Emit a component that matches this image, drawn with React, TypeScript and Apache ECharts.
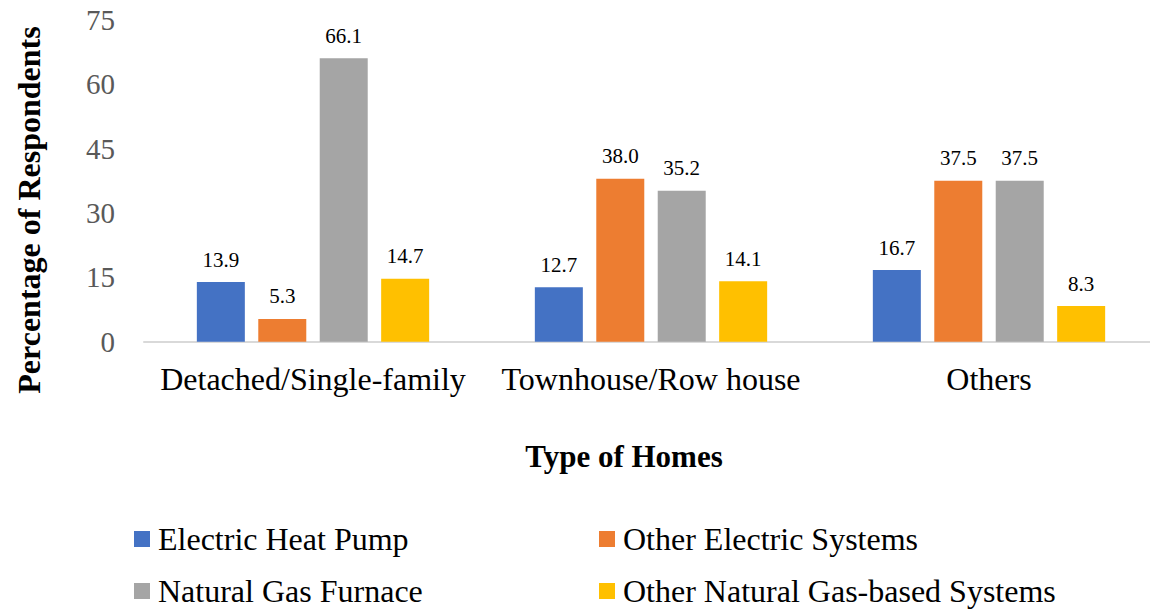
import React, { useEffect, useRef } from "react";
import * as echarts from "echarts";

const categories = ["Detached/Single-family", "Townhouse/Row house", "Others"];
const seriesNames = [
  "Electric Heat Pump",
  "Other Electric Systems",
  "Natural Gas Furnace",
  "Other Natural Gas-based Systems",
];
const electricHeatPump = [13.9, 12.7, 16.7];
const otherElectric = [5.3, 38.0, 37.5];
const naturalGasFurnace = [66.1, 35.2, 37.5];
const otherNaturalGas = [14.7, 14.1, 8.3];
const colors = ["#4472C4", "#ED7D31", "#A5A5A5", "#FFC000"];
const yTicks = { min: 0, max: 75, interval: 15 };

const SERIF = "'Liberation Serif', 'Times New Roman', serif";

export default function App() {
  const ref = useRef<HTMLDivElement>(null);
  useEffect(() => {
    if (!ref.current) return;
    const chart = echarts.init(ref.current, null, { renderer: "svg" });
    const values = [electricHeatPump, otherElectric, naturalGasFurnace, otherNaturalGas];
    const legendText = {
      fontFamily: SERIF,
      fontSize: 32,
      color: "#000",
      padding: [0, 0, 0, 3],
    };
    const legendPos = [
      { left: 134, top: 523 },
      { left: 599, top: 523 },
      { left: 134, top: 575 },
      { left: 599, top: 575 },
    ];
    chart.setOption({
      animation: false,
      textStyle: { fontFamily: SERIF },
      grid: { left: 144, width: 1014, top: 20, height: 321.7, containLabel: false },
      xAxis: {
        type: "category",
        data: categories,
        axisLine: { show: true, lineStyle: { color: "#D9D9D9", width: 2 } },
        axisTick: { show: false },
        axisLabel: { fontFamily: SERIF, fontSize: 32, color: "#000", margin: 21, interval: 0 },
      },
      yAxis: {
        type: "value",
        min: yTicks.min,
        max: yTicks.max,
        interval: yTicks.interval,
        axisLine: { show: false },
        axisTick: { show: false },
        splitLine: { show: false },
        axisLabel: { fontFamily: SERIF, fontSize: 29, color: "#595959", margin: 29 },
      },
      legend: seriesNames.map((name, i) => ({
        orient: "horizontal",
        left: legendPos[i].left,
        top: legendPos[i].top,
        padding: 0,
        itemWidth: 16,
        itemHeight: 16,
        icon: "rect",
        data: [name],
        textStyle: legendText,
      })),
      graphic: [
        {
          type: "text",
          x: 624,
          y: 456,
          style: {
            text: "Type of Homes",
            fontFamily: SERIF,
            fontWeight: "bold",
            fontSize: 31,
            fill: "#000",
            textAlign: "center",
            textVerticalAlign: "middle",
          },
        },
        {
          type: "text",
          x: 29,
          y: 210,
          rotation: Math.PI / 2,
          style: {
            text: "Percentage of Respondents",
            fontFamily: SERIF,
            fontWeight: "bold",
            fontSize: 32,
            fill: "#000",
            textAlign: "center",
            textVerticalAlign: "middle",
          },
        },
      ],
      series: seriesNames.map((name, i) => ({
        name,
        type: "bar",
        data: values[i],
        barWidth: 48,
        barGap: "28%",
        itemStyle: { color: colors[i] },
        label: {
          show: true,
          position: "top",
          distance: 12,
          fontFamily: SERIF,
          fontSize: 21,
          color: "#000",
          formatter: (p: any) => Number(p.value).toFixed(1),
        },
      })),
    });
    return () => chart.dispose();
  }, []);
  return (
    <div
      ref={ref}
      style={{ position: "fixed", left: 0, top: 0, width: 1170, height: 610, background: "#fff" }}
    />
  );
}
